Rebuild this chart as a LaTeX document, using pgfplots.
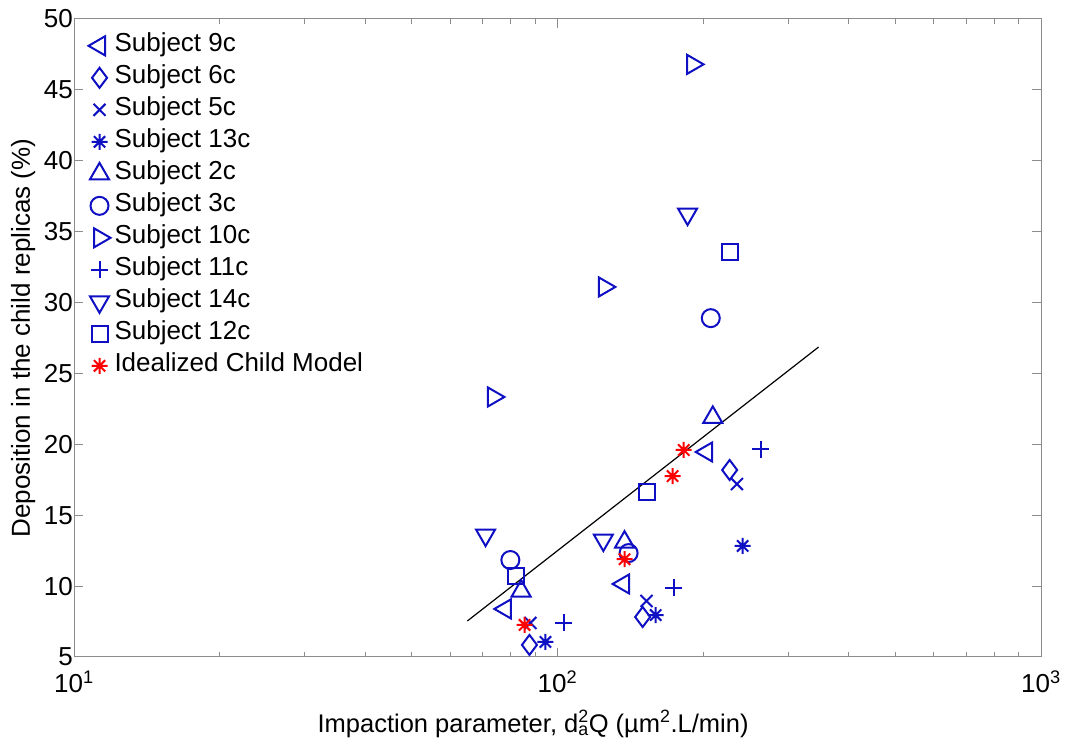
\documentclass[border=0pt]{standalone}
\usepackage{fontspec}
\setmainfont{Liberation Sans}
\usepackage{pgfplots}
\pgfplotsset{compat=1.18}
\definecolor{mblue}{RGB}{15,15,195}
\definecolor{axgray}{RGB}{140,140,140}
\pgfdeclareplotmark{mstar}{%
  \pgfpathmoveto{\pgfqpoint{-\pgfplotmarksize}{0pt}}\pgfpathlineto{\pgfqpoint{\pgfplotmarksize}{0pt}}%
  \pgfpathmoveto{\pgfqpoint{0pt}{-\pgfplotmarksize}}\pgfpathlineto{\pgfqpoint{0pt}{\pgfplotmarksize}}%
  \pgfpathmoveto{\pgfqpoint{-0.707\pgfplotmarksize}{-0.707\pgfplotmarksize}}\pgfpathlineto{\pgfqpoint{0.707\pgfplotmarksize}{0.707\pgfplotmarksize}}%
  \pgfpathmoveto{\pgfqpoint{-0.707\pgfplotmarksize}{0.707\pgfplotmarksize}}\pgfpathlineto{\pgfqpoint{0.707\pgfplotmarksize}{-0.707\pgfplotmarksize}}%
  \pgfusepathqstroke}
\begin{document}
\begin{tikzpicture}
\begin{axis}[
  name=ax,
  scale only axis,
  width=967pt, height=638pt,
  xmode=log,
  xmin=10, xmax=1000,
  ymin=5, ymax=50,
  xtick={10,100,1000},
  xticklabels={10\textsuperscript{1},10\textsuperscript{2},10\textsuperscript{3}},
  minor xtick={20,30,40,50,60,70,80,90,200,300,400,500,600,700,800,900},
  ytick={5,10,15,20,25,30,35,40,45,50},
  tick align=inside,
  major tick length=9pt,
  minor tick length=5pt,
  axis line style={axgray, line width=1pt},
  every tick/.style={axgray, line width=1pt},
  /pgf/number format/assume math mode=true,
  tick label style={font=\fontsize{26}{26}\selectfont, black},
  yticklabel style={inner sep=1pt},
  xticklabel style={inner sep=10pt, yshift=-4pt},
  clip=false,
  xlabel={Impaction parameter, d\rlap{\textsuperscript{2}}\textsubscript{a}Q (\textmu m\textsuperscript{2}.L/min)},
  ylabel={Deposition in the child replicas (\%)},
  xlabel style={font=\fontsize{25.5}{25}\selectfont, at={(axis description cs:0.4747,-0.1176)}, anchor=base},
  ylabel style={font=\fontsize{26}{26}\selectfont, at={(axis description cs:-0.0527,0.5)}, anchor=center},
  legend cell align=left,
  legend style={draw=none, fill=none, inner sep=0pt, outer sep=0pt,
    at={(axis description cs:0.015,0.983)}, anchor=north west,
    font=\fontsize{26}{32}\selectfont, row sep=0pt, column sep=4pt,
    nodes={inner sep=0pt, text height=22pt, text depth=10pt}},
  every axis plot/.append style={only marks, line width=2pt},
]
% Subject 9c
\addplot[mblue, mark=triangle, mark size=11pt, mark options={rotate=90}] coordinates {(203.5,19.46) (78,8.39) (137,10.15)};
\addlegendentry{Subject 9c}
% Subject 6c
\addplot[mblue, mark=diamond, mark size=10pt] coordinates {(227,18.19) (87.5,5.85) (150,7.82)};
\addlegendentry{Subject 6c}
% Subject 5c
\addplot[mblue, mark=x, mark size=8.5pt] coordinates {(235,17.2) (87.9,7.4) (152.8,8.95)};
\addlegendentry{Subject 5c}
% Subject 13c
\addplot[mblue, mark=mstar, mark size=8pt] coordinates {(241.5,12.83) (94.4,6.06) (159.6,7.96)};
\addlegendentry{Subject 13c}
% Subject 2c
\addplot[mblue, mark=triangle, mark size=11pt] coordinates {(209.5,21.9) (84.1,9.65) (137.6,13.1)};
\addlegendentry{Subject 2c}
% Subject 3c
\addplot[mblue, mark=o, mark size=9pt] coordinates {(207.5,28.9) (79.9,11.84) (140.3,12.33)};
\addlegendentry{Subject 3c}
% Subject 10c
\addplot[mblue, mark=triangle, mark size=11pt, mark options={rotate=-90}] coordinates {(190.3,46.8) (73.7,23.34) (125,31.1)};
\addlegendentry{Subject 10c}
% Subject 11c
\addplot[mblue, mark=+, mark size=8.5pt] coordinates {(263,19.67) (102.9,7.4) (173.8,9.87)};
\addlegendentry{Subject 11c}
% Subject 14c
\addplot[mblue, mark=triangle, mark size=11pt, mark options={rotate=180}] coordinates {(185.8,36.24) (71,13.6) (124.4,13.25)};
\addlegendentry{Subject 14c}
% Subject 12c
\addplot[mblue, mark=square, mark size=8pt] coordinates {(227,33.56) (82.2,10.71) (152.8,16.64)};
\addlegendentry{Subject 12c}
% Idealized Child Model
\addplot[red, mark=mstar, mark size=8pt] coordinates {(182.4,19.6) (173,17.76) (137.6,11.9) (85.5,7.26)};
\addlegendentry{Idealized Child Model}
% regression line
\addplot[black, line width=1.2pt, no marks, sharp plot, forget plot] coordinates {(65.1,7.54) (346.7,26.86)};
\end{axis}
\pgfresetboundingbox
\path ([xshift=-74pt,yshift=-85pt]ax.south west) rectangle ([xshift=24pt,yshift=19pt]ax.north east);
\end{tikzpicture}
\end{document}
